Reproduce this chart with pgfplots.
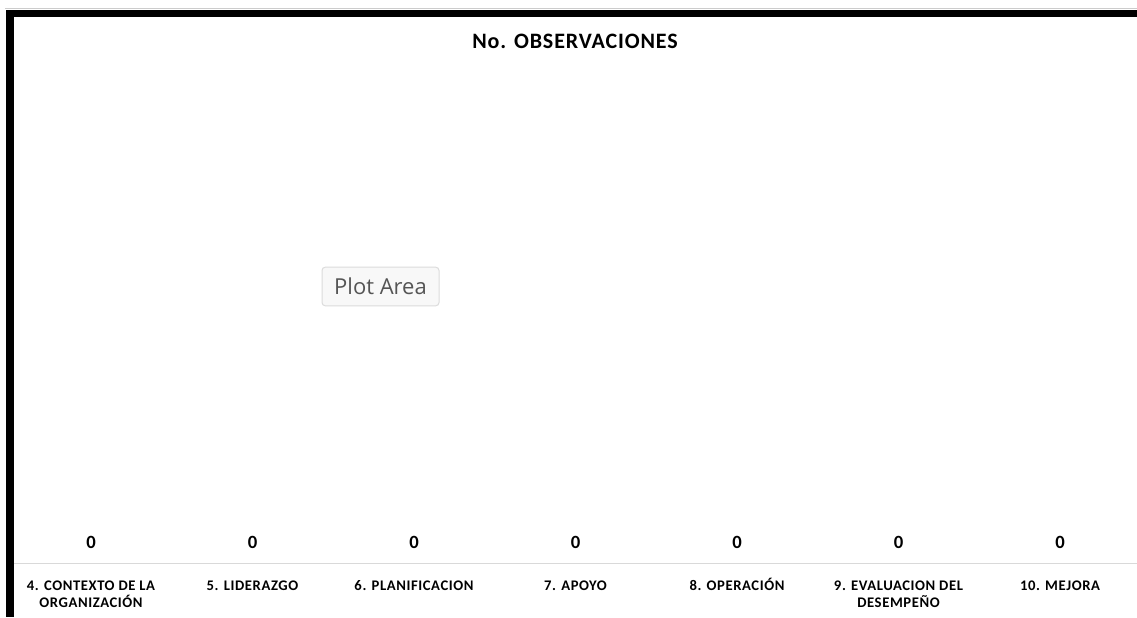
\documentclass[border=0pt]{standalone}
\usepackage{pgfplots}
\pgfplotsset{compat=1.18}
\usepackage{fontspec}
\setmainfont{Carlito}
\newfontfamily\tipfont{Open Sans}

\definecolor{axisgray}{HTML}{D9D9D9}
\definecolor{tipborder}{HTML}{DCDCDC}
\definecolor{tipfill}{HTML}{F8F8F8}
\definecolor{tiptext}{HTML}{555555}

% category label, first line on the node's baseline
\newcommand\lbl[1]{\begin{tabular}[t]{@{}c@{}}#1\end{tabular}}

\begin{document}
\begin{tikzpicture}[x=0.75pt,y=0.75pt]
% page = 1137 x 617 px, 1px = 0.75pt, y from the bottom
\path[use as bounding box] (0,0) rectangle (1137,617);
\fill[white] (0,0) rectangle (1137,617);

% title
\node[anchor=base, font=\fontsize{16.5}{19}\selectfont\bfseries\addfontfeatures{LetterSpace=4}] at (575,568) {No. OBSERVACIONES};

\begin{axis}[
    at={(7.6875pt,40.125pt)}, anchor=south west,
    scale only axis,
    width=847.875pt, height=400pt,
    xmin=-0.5, xmax=6.5, ymin=0, ymax=1,
    clip=false,
    hide y axis,
    axis x line*=bottom,
    x axis line style={draw=axisgray, line width=1.1pt, -},
    xtick={0,1,2,3,4,5,6},
    major tick length=0pt,
    xticklabels={
        \lbl{4. CONTEXTO DE LA\\ORGANIZACIÓN},
        \lbl{5. LIDERAZGO},
        \lbl{6. PLANIFICACION},
        \lbl{7. APOYO},
        \lbl{8. OPERACIÓN},
        \lbl{9. EVALUACION DEL\\DESEMPEÑO},
        \lbl{10. MEJORA}},
    xticklabel style={anchor=base, inner sep=0pt, yshift=-20.5pt,
        font=\fontsize{11}{12}\selectfont\bfseries\addfontfeatures{LetterSpace=4}},
    ybar, bar width=20pt,
    nodes near coords={\pgfmathprintnumber[assume math mode=true]{\pgfplotspointmeta}},
    every node near coord/.append style={font=\fontsize{14}{16}\selectfont\bfseries,
        anchor=base, inner sep=0pt, yshift=10.9pt},
]
    % No. observaciones por capitulo
    \addplot[draw=none, fill=none] coordinates {
        (0,0) (1,0) (2,0) (3,0) (4,0) (5,0) (6,0)
    };
\end{axis}

% frame: thin grey line on top, thick black border top and left
\draw[gray!40, line width=0.75pt] (5,608) -- (1137,608);
\fill[black] (6,600) rectangle (1137,607);
\fill[black] (6,0) rectangle (14,607);

% tooltip shown over the plot area
\node[draw=tipborder, fill=tipfill, rounded corners=2.5pt, line width=0.75pt,
      text=tiptext, font=\tipfont\fontsize{16.5}{19}\selectfont,
      minimum width=87.75pt, minimum height=29pt, inner sep=0pt]
      at (380.5,330.5) {Plot Area};
\end{tikzpicture}
\end{document}
